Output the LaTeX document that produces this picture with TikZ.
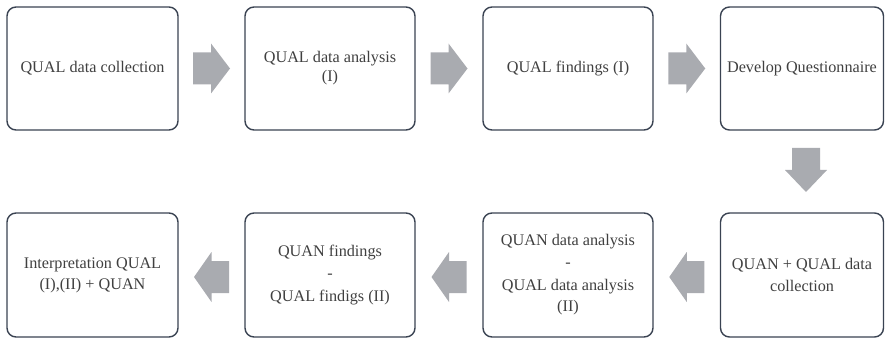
\documentclass[tikz,border=0pt]{standalone}
\usepackage{fontspec}
\setmainfont{Liberation Serif}
\usetikzlibrary{calc}
\definecolor{boxline}{HTML}{3A4352}
\definecolor{txt}{HTML}{404040}
\definecolor{arrfill}{HTML}{A9ABB0}
\begin{document}
\begin{tikzpicture}[x=1pt,y=-1pt,
  box/.style={draw=boxline,line width=1.4pt,rounded corners=9pt,fill=white,
    minimum width=171pt,minimum height=123pt,inner sep=2pt,align=center,
    text=txt,font=\fontsize{16.2}{21}\selectfont},
  blockarrow/.style={fill=arrfill,draw=none}]
\useasboundingbox (0,0) rectangle (886,339);
% top row
\node[box] (b1) at (92.5,68.5) {QUAL data collection};
\node[box,minimum width=170pt] (b2) at (330,68.5) {QUAL data analysis\\[-2pt](I)};
\node[box,minimum width=170pt] (b3) at (568,68.5) {QUAL findings (I)};
\node[box,minimum width=163pt] (b4) at (802,68.5) {Develop Questionnaire};
% bottom row
\node[box,minimum height=124pt] (b8) at (92.5,275) {Interpretation QUAL\\(I),(II) + QUAN};
\node[box,minimum width=170pt,minimum height=124pt] (b7) at (330,275) {QUAN findings\\[1pt]-\\[2pt]QUAL findigs (II)};
\node[box,minimum width=170pt,minimum height=124pt] (b6) at (568,275) {QUAN data analysis\\[1pt]-\\[2pt]QUAL data analysis\\[0pt](II)};
\node[box,minimum width=163pt,minimum height=124pt] (b5) at (802,275) {QUAN + QUAL data\\[1pt]collection};
% midpoints
\coordinate (m12) at ($(b1.east)!0.5!(b2.west)$);
\coordinate (m23) at ($(b2.east)!0.5!(b3.west)$);
\coordinate (m34) at ($(b3.east)!0.5!(b4.west)$);
\coordinate (m45) at (806,170);
\coordinate (m56) at ($(b5.west)!0.5!(b6.east)+(0,2)$);
\coordinate (m67) at ($(b6.west)!0.5!(b7.east)+(0,2)$);
\coordinate (m78) at ($(b7.west)!0.5!(b8.east)+(0,2)$);
% right arrows
\foreach \m in {m12,m23,m34}{
  \fill[blockarrow] ($(\m)+(-18.5,-16)$) -- ($(\m)+(-0.5,-16)$) -- ($(\m)+(-0.5,-25)$)
    -- ($(\m)+(18.5,0)$) -- ($(\m)+(-0.5,25)$) -- ($(\m)+(-0.5,16)$) -- ($(\m)+(-18.5,16)$) -- cycle;
}
% left arrows
\foreach \m in {m56,m67,m78}{
  \fill[blockarrow] ($(\m)+(17.5,-16)$) -- ($(\m)+(0,-16)$) -- ($(\m)+(0,-25)$)
    -- ($(\m)+(-17.5,0)$) -- ($(\m)+(0,25)$) -- ($(\m)+(0,16)$) -- ($(\m)+(17.5,16)$) -- cycle;
}
% down arrow
\fill[blockarrow] ($(m45)+(-14,-22)$) -- ($(m45)+(14,-22)$) -- ($(m45)+(14,0)$)
  -- ($(m45)+(21,0)$) -- ($(m45)+(0,22)$) -- ($(m45)+(-21,0)$) -- ($(m45)+(-14,0)$) -- cycle;
\end{tikzpicture}
\end{document}
